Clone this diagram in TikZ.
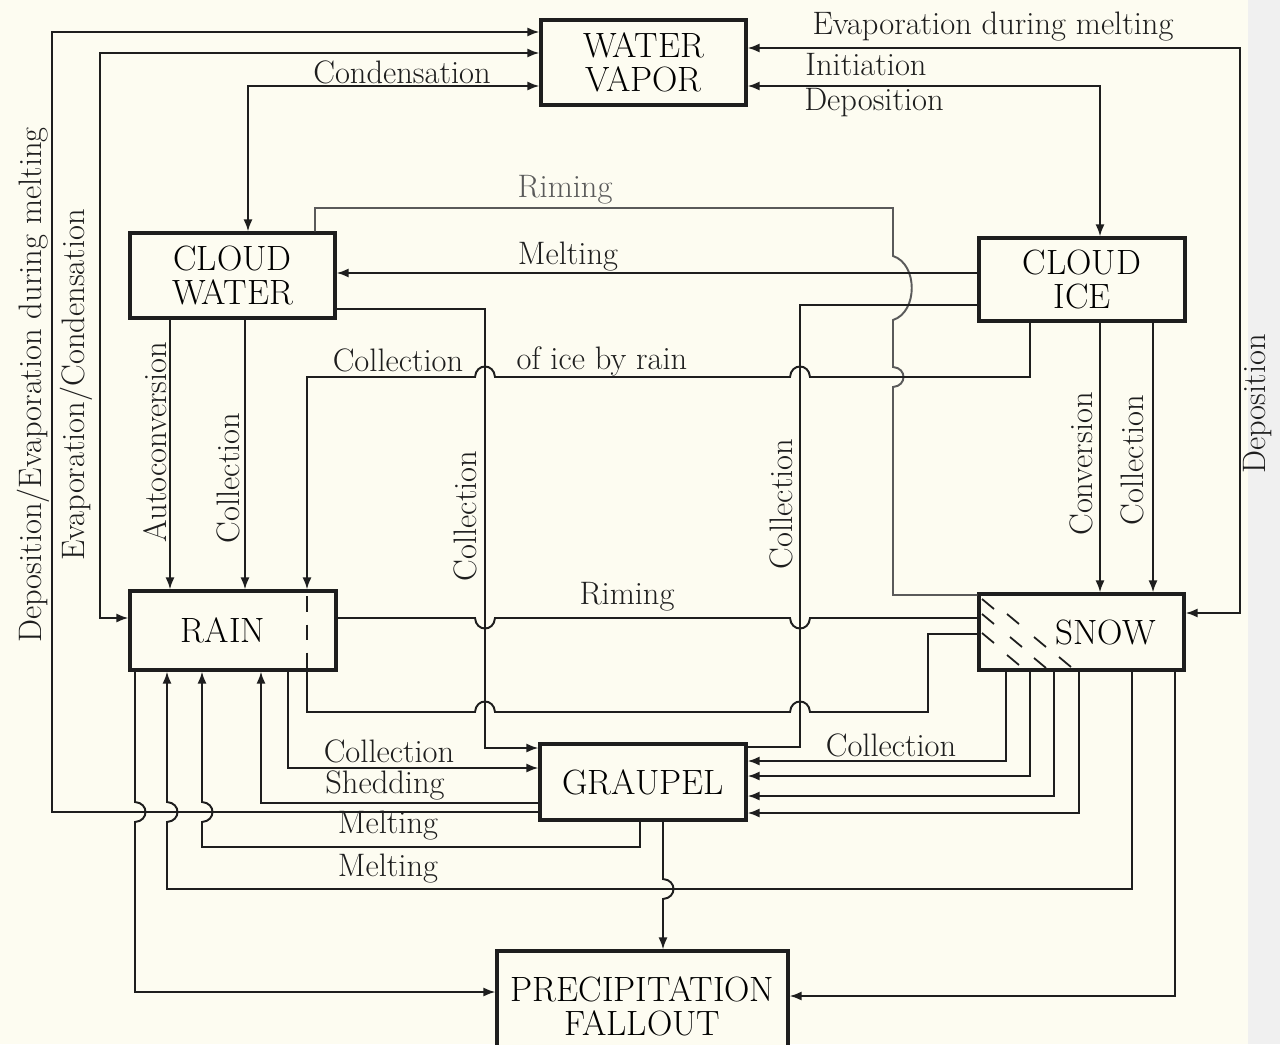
\documentclass[tikz,border=0pt]{standalone}
\usepackage{tikz}
\usetikzlibrary{arrows.meta}
\definecolor{paper}{HTML}{FDFCF1}
\definecolor{inkc}{HTML}{1E1E1E}
\definecolor{fadec}{HTML}{5A5A5A}
\newcommand\labfont{\fontsize{18.5}{20}\selectfont}
\newcommand\boxfont{\fontsize{20}{19.5}\selectfont}
% line hops: vertical drawn downward (bump right), horizontal drawn rightward (bump up/down)
\newcommand\vhop[2]{-- (#1,#2-10) .. controls (#1+14,#2-9) and (#1+14,#2+9) .. (#1,#2+10)}
\newcommand\hup[2]{-- (#1-10,#2) .. controls (#1-9,#2-14) and (#1+9,#2-14) .. (#1+10,#2)}
\newcommand\hdn[2]{-- (#1-10,#2) .. controls (#1-9,#2+14) and (#1+9,#2+14) .. (#1+10,#2)}
\tikzset{
  ln/.style={line width=1.1pt,inkc},
  ar/.style={ln,-{Latex[length=2.4mm,width=1.8mm]}},
  ra/.style={ln,{Latex[length=2.4mm,width=1.8mm]}-},
  ab/.style={ln,{Latex[length=2.4mm,width=1.8mm]}-{Latex[length=2.4mm,width=1.8mm]}},
  box/.style={draw=inkc,line width=1.8pt,fill=paper,inner sep=0pt,align=center,font=\boxfont,minimum width=4.1cm,minimum height=1.7cm},
  lab/.style={font=\labfont,inner sep=0pt,text=inkc},
  vlab/.style={lab,rotate=90}
}
\begin{document}
\begin{tikzpicture}[x=0.02cm,y=-0.02cm]
\useasboundingbox (0,0) rectangle (1280,1044);
\clip (0,0) rectangle (1280,1044);
\fill[paper] (0,0) rectangle (1280,1044);
\fill[black!6] (1248,0) rectangle (1280,1044);
% boxes
\node[box] (wv) at (643.5,62.5) {WATER\\VAPOR};
\node[box] (cw) at (232.5,275.5) {CLOUD\\WATER};
\node[box,minimum width=4.12cm,minimum height=1.66cm] (ci) at (1082,279.5) {CLOUD\\ICE};
\node[box,minimum width=4.12cm,minimum height=1.58cm] (rain) at (233,630.5) {\hspace*{-0.4cm}RAIN};
\node[box,minimum height=1.52cm] (snow) at (1081.5,632) {\hspace*{0.96cm}SNOW};
\node[box,minimum width=4.12cm,minimum height=1.52cm] (gr) at (643,782) {GRAUPEL};
\node[box,minimum width=5.82cm,minimum height=2.22cm] (pf) at (642.5,1006.5) {PRECIPITATION\\FALLOUT};
% snow hatching
\foreach \x/\y in {988/604,988/619,1013/619,988/638,1016/642,1040/642,1013/660,1040/663,1065/662}
  \draw[line width=1pt,inkc] (\x-6,\y-5) -- (\x+6,\y+5);
% vapour exchanges
\draw[ar] (gr.west |- 0,812) -- (52,812) -- (52,32) -- (wv.west |- 0,32);
\draw[ab] (rain.west |- 0,618) -- (100,618) -- (100,53) -- (wv.west |- 0,53);
\draw[ab] (cw.north -| 248,0) -- (248,86) -- (wv.west |- 0,86);
\draw[ab] (wv.east |- 0,86) -- (1100,86) -- (ci.north -| 1100,0);
\draw[ab] (wv.east |- 0,48) -- (1240,48) -- (1240,613) -- (snow.east |- 0,613);
% riming of cloud water by snow
\draw[ln,fadec] (cw.north -| 315,0) -- (315,208) -- (893,208) -- (893,256)
  .. controls (918,264) and (918,312) .. (893,320) \vhop{893}{377} -- (893,595) -- (snow.west |- 0,595);
\draw[ar] (ci.west |- 0,273) -- (cw.east |- 0,273);
\draw[ln] (ci.west |- 0,305) -- (800,305) -- (800,747) -- (gr.east |- 0,747);
\draw[ar] (cw.south -| 170,0) -- (rain.north -| 170,0);
\draw[ar] (cw.south -| 245,0) -- (rain.north -| 245,0);
\draw[ra] (rain.north -| 307,0) -- (307,377) \hup{485}{377} \hup{800}{377} -- (1030,377) -- (ci.south -| 1030,0);
\draw[ln,dash pattern=on 9pt off 7pt,dash phase=-4pt] (rain.north -| 307,0) -- (rain.south -| 307,0);
\draw[ln] (rain.south -| 307,0) -- (307,712) \hup{485}{712} \hup{800}{712} -- (928,712) -- (928,634) -- (snow.west |- 0,634);
\draw[ar] (cw.east |- 0,309) -- (485,309) -- (485,748) -- (gr.west |- 0,748);
\draw[ln] (rain.east |- 0,618) \hdn{485}{618} \hdn{800}{618} -- (snow.west |- 0,618);
\draw[ar] (ci.south -| 1100,0) -- (snow.north -| 1100,0);
\draw[ar] (ci.south -| 1153,0) -- (snow.north -| 1153,0);
% graupel and fallout
\foreach \x/\y in {1006/761,1030/776,1054/796,1079/813}
  \draw[ar] (snow.south -| \x,0) -- (\x,\y) -- (gr.east |- 0,\y);
\draw[ra] (rain.south -| 167,0) \vhop{167}{812} -- (167,889) -- (1132,889) -- (snow.south -| 1132,0);
\draw[ra] (rain.south -| 202,0) \vhop{202}{812} -- (202,847) -- (640,847) -- (gr.south -| 640,0);
\draw[ra] (rain.south -| 261,0) -- (261,803) -- (gr.west |- 0,803);
\draw[ar] (rain.south -| 288,0) -- (288,768) -- (gr.west |- 0,768);
\draw[ar] (rain.south -| 135,0) \vhop{135}{812} -- (135,992) -- (pf.west |- 0,992);
\draw[ar] (snow.south -| 1175,0) -- (1175,996) -- (pf.east |- 0,996);
\draw[ar] (gr.south -| 663,0) \vhop{663}{889} -- (pf.north -| 663,0);
% labels
\node[lab] (tcond) at (402,72) {Condensation};
\node[lab] (tevm) at (993,27) {Evaporation during melting};
\node[lab] (tinit) at (866,65) {Initiation};
\node[lab] (tdep) at (874,103) {Deposition};
\node[lab,text=fadec] (trim1) at (565,190) {Riming};
\node[lab] (tmelt1) at (568,257) {Melting};
\node[lab] (tcoll1) at (398,360) {Collection};
\node[lab] (tice) at (602,361) {of ice by rain};
\node[lab] (trim2) at (627,597) {Riming};
\node[lab] (tcoll2) at (389,751) {Collection};
\node[lab] (tshed) at (385,785) {Shedding};
\node[lab] (tmelt2) at (388,826) {Melting};
\node[lab] (tmelt3) at (388,869) {Melting};
\node[lab] (tcoll3) at (891,745) {Collection};
\node[vlab] (tauto) at (155,442) {Autoconversion};
\node[vlab] (tcoll4) at (228,478) {Collection};
\node[vlab] (tcoll5) at (465,516) {Collection};
\node[vlab] (tcoll6) at (781,504) {Collection};
\node[vlab] (tconv) at (1081,464) {Conversion};
\node[vlab] (tcoll7) at (1132,460) {Collection};
\node[vlab] (tdep2) at (1258,404) {Deposition};
\node[vlab] (tevc) at (76,385) {Evaporation/Condensation};
\node[vlab] (tdem) at (33,385) {Deposition/Evaporation during melting};
\end{tikzpicture}
\end{document}
